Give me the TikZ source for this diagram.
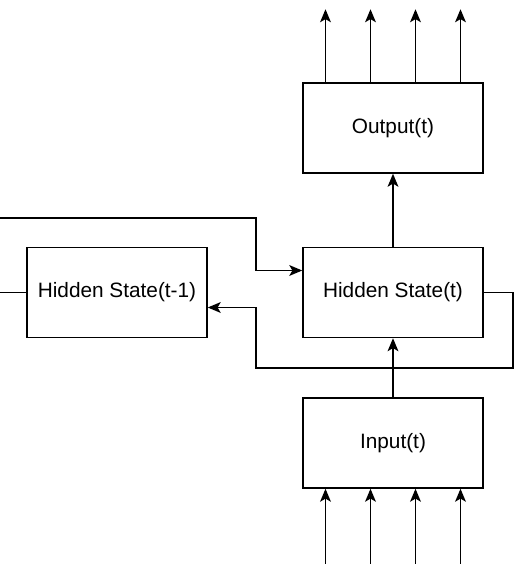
\documentclass[tikz,border=0pt]{standalone}
\usepackage{fontspec}
\setmainfont{Liberation Sans}
\usetikzlibrary{arrows.meta}

\begin{document}
\begin{tikzpicture}[x=0.5pt, y=0.5pt, line width=0.75pt,
	box/.style={draw, minimum width=90pt, minimum height=45pt, inner sep=0pt, font=\fontsize{10.4}{12}\selectfont},
	arr/.style={-{Stealth[length=6.5pt, width=5.4pt, inset=1.6pt]}}]
	\useasboundingbox (0, 0) rectangle (522, 564);
	\node[box] (out) at (393, 436) {Output(t)};
	\node[box] (hid) at (393, 271.5) {Hidden State(t)};
	\node[box] (prev) at (117, 271.5) {Hidden State(t-1)};
	\node[box] (in) at (393, 121) {Input(t)};
	\coordinate (fin) at (0, 346);
	\coordinate (fbend) at (256, 346);
	\coordinate (pin) at (0, 271.5);
	\coordinate (lr) at (513, 196);
	\coordinate (ll) at (256, 196);
	% output and input fans
	\foreach \dx in {-67.5, -22.5, 22.5, 67.5} {
		\draw[arr] ([xshift=\dx*0.5pt]out.north) -- ++(0, 73);
		\draw[arr] ([xshift=\dx*0.5pt]in.south) ++(0, -76) -- ([xshift=\dx*0.5pt]in.south);
	}
	\draw[arr] (in) -- (hid);
	\draw[arr] (hid) -- (out);
	% state coming in from the left
	\draw[arr] (fin) -- (fbend) |- ([yshift=11pt]hid.west);
	\draw (pin) -- (prev.west);
	% loop back to the previous state
	\draw[arr] (hid.east) -| (lr) -- (ll) |- ([yshift=-7.5pt]prev.east);
\end{tikzpicture}
\end{document}
